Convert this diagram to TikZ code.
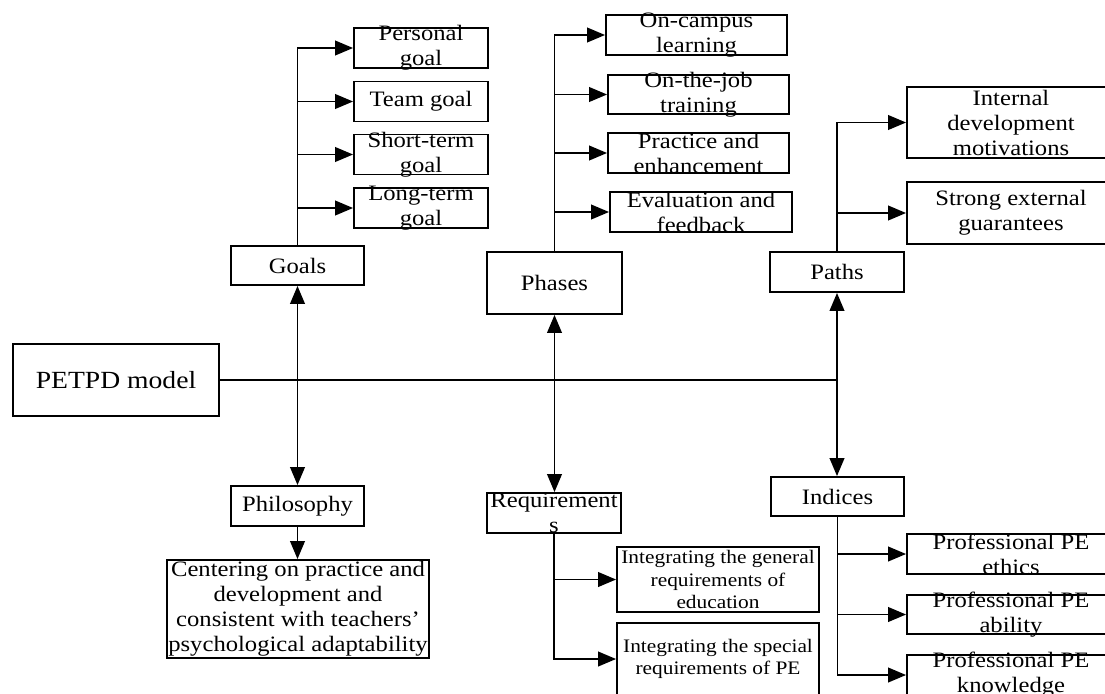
\documentclass[tikz,border=0pt]{standalone}
\usepackage{fontspec}
\setmainfont[FakeStretch=1.12]{Liberation Serif}
\usetikzlibrary{arrows.meta}

\tikzset{
  box/.style={draw, inner sep=0pt},
  sz/.style 2 args={minimum width=#1*0.75pt, minimum height=#2*0.75pt},
  lbl/.style={align=center, font=\fontsize{16.5}{18.75}\selectfont},
  small/.style={align=center, font=\fontsize{14.3}{16.9}\selectfont},
}

\begin{document}
\begin{tikzpicture}[x=0.75pt, y=-0.75pt, line width=1.4pt,
    >={Triangle[length=13.5pt, width=11pt]}]
  \useasboundingbox (0,0) rectangle (1105,693);
  \clip (0,0) rectangle (1105,693);

  % Modell
  \node[box, sz={206}{72}, label={[lbl, font=\fontsize{18.5}{20}\selectfont]center:PETPD model}] (petpd) at (116,380) {};

  % Goals
  \node[box, sz={133}{39}, label={[lbl]center:Goals}] (goals) at (297.5,265.5) {};
  \node[box, sz={134}{40}, label={[lbl]center:Personal\\goal}] (pg) at (421,48) {};
  \node[box, sz={134}{40}, label={[lbl]center:Team goal}] (tg) at (421,101.5) {};
  \node[box, sz={134}{40}, label={[lbl]center:Short-term\\goal}] (stg) at (421,154.5) {};
  \node[box, sz={134}{40}, label={[lbl]center:Long-term\\goal}] (ltg) at (421,208) {};

  % Philosophy
  \node[box, sz={133}{40}, label={[lbl]center:Philosophy}] (phil) at (297.5,506) {};
  \node[box, sz={262}{98}, label={[lbl]center:Centering on practice and\\development and\\consistent with teachers’\\psychological adaptability}] (cen) at (298,609) {};

  % Phases
  \node[box, sz={135}{62}, label={[lbl]center:Phases}] (phases) at (554.5,283) {};
  \node[box, sz={181}{40}, label={[lbl]center:On-campus\\learning}] (ocl) at (696.5,35) {};
  \node[box, sz={181}{39}, label={[lbl]center:On-the-job\\training}] (ojt) at (698.5,94.5) {};
  \node[box, sz={181}{40}, label={[lbl]center:Practice and\\enhancement}] (pae) at (698.5,153) {};
  \node[box, sz={182}{40}, label={[lbl]center:Evaluation and\\feedback}] (eaf) at (701,212) {};

  % Requirements
  \node[box, sz={134}{40}, label={[lbl]center:Requirement\\s}] (req) at (554,513) {};
  \node[box, sz={202}{65}, label={[small]center:Integrating the general\\requirements of\\education}] (ige) at (718,579.5) {};
  \node[box, sz={202}{72}, label={[small]center:Integrating the special\\requirements of PE}] (isr) at (718,659) {};

  % Paths
  \node[box, sz={134}{40}, label={[lbl]center:Paths}] (paths) at (837,272) {};
  \node[box, sz={208}{71}, label={[lbl]center:Internal\\development\\motivations}] (imm) at (1011,122.5) {};
  \node[box, sz={208}{62}, label={[lbl]center:Strong external\\guarantees}] (seg) at (1011,213) {};

  % Indices
  \node[box, sz={133}{39}, label={[lbl]center:Indices}] (ind) at (837.5,496.5) {};
  \node[box, sz={208}{40}, label={[lbl]center:Professional PE\\ethics}] (pee) at (1011,554) {};
  \node[box, sz={208}{39}, label={[lbl]center:Professional PE\\ability}] (pea) at (1011,614.5) {};
  \node[box, sz={208}{40}, label={[lbl]center:Professional PE\\knowledge}] (pek) at (1011,675) {};

  % Verbindungen
  \draw (petpd.east) -- (petpd.east -| paths.south);
  \draw[<->] (goals.south) -- (phil.north);
  \draw[<->] (phases.south) -- (phases.south |- req.north);
  \draw[<->] (paths.south) -- (paths.south |- ind.north);
  \draw[->] (phil.south) -- (phil.south |- cen.north);

  \foreach \n in {pg,tg,stg,ltg}
    \draw[->] (goals.north) |- (\n.west);
  \foreach \n in {ocl,ojt,pae,eaf}
    \draw[->] (phases.north) |- (\n.west);
  \foreach \n in {imm,seg}
    \draw[->] (paths.north) |- (\n.west);
  \foreach \n in {ige,isr}
    \draw[->] (req.south) |- (\n.west);
  \foreach \n in {pee,pea,pek}
    \draw[->] (ind.south) |- (\n.west);
\end{tikzpicture}
\end{document}
